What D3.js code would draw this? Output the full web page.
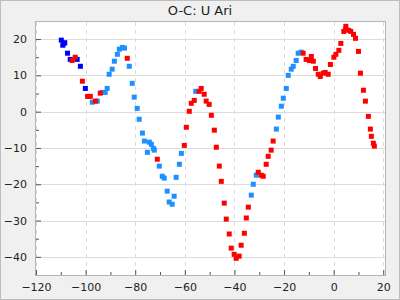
<!DOCTYPE html>
<html>
<head>
<meta charset="utf-8">
<script src="https://cdn.jsdelivr.net/npm/d3@7"></script>
<style>
    html, body { margin: 0; padding: 0; background: #f0f0f0; }
    svg { display: block; font-family: "DejaVu Sans", sans-serif; }
</style>
</head>
<body>
<div id="chart"></div>
<script>
// O-C values: [epoch x, O-C]
const darkBluePoints = [
    [-109.8, 19.7], [-108.4, 19.0], [-109.2, 18.3], [-108.8, 18.8],
    [-107.3, 16.1], [-106.2, 14.4], [-103.4, 14.4], [-102.1, 12.5],
    [-100.1, 6.4]
];

const skyBluePoints = [
    [-97.3, 2.6], [-95.3, 2.9], [-93.3, 5.3], [-92.1, 5.3], [-91.3, 6.4],
    [-90.5, 10.3], [-89.3, 11.7], [-88.4, 13.9], [-87.2, 15.8], [-86.4, 17.2],
    [-85.2, 17.7], [-84.3, 17.5], [-82.4, 12.5], [-81.2, 7.8], [-80.4, 4.0],
    [-79.2, 0.9], [-78.4, -2.1], [-77.1, -5.9], [-76.3, -8.1], [-74.3, -8.4],
    [-73.5, -9.0], [-72.7, -10.1], [-75.1, -11.2], [-72.3, -10.6], [-70.3, -15.0],
    [-69.1, -17.8], [-68.3, -18.3], [-67.1, -21.9], [-64.3, -23.3], [-66.3, -24.9],
    [-65.1, -25.5], [-63.5, -18.1], [-62.2, -14.5], [-61.4, -11.5], [-55.6, 5.6],
    [-33.2, -23.0], [-32.4, -20.0], [-31.2, -17.5], [-23.1, -4.8], [-22.3, -1.5],
    [-21.1, 1.5], [-20.3, 3.7], [-19.1, 6.4], [-18.3, 10.0], [-17.1, 11.7],
    [-16.3, 12.5], [-15.1, 14.1], [-14.3, 16.1], [-13.1, 16.4]
];

const redPoints = [
    [-105.4, 14.1], [-104.2, 15.0], [-101.3, 8.4], [-99.2, 4.2], [-98.1, 4.2],
    [-96.1, 2.9], [-94.1, 5.1], [-83.2, 14.7], [-71.1, -13.1], [-60.2, -9.3],
    [-59.4, -4.3], [-58.2, 0.1], [-57.4, 2.3], [-56.2, 3.1], [-54.2, 5.6],
    [-53.4, 6.4], [-52.2, 4.8], [-51.4, 2.9], [-50.2, 2.0], [-49.3, -1.0],
    [-48.1, -5.1], [-47.3, -9.8], [-46.1, -15.0], [-45.3, -19.2], [-44.1, -25.2],
    [-43.3, -29.6], [-42.1, -33.7], [-41.3, -37.6], [-40.1, -39.3], [-39.3, -40.4],
    [-38.1, -39.8], [-37.3, -36.8], [-36.0, -33.5], [-35.2, -29.3], [-34.4, -26.3],
    [-30.4, -16.7], [-29.2, -17.5], [-28.4, -17.8], [-27.2, -14.5], [-26.4, -12.3],
    [-25.2, -10.6], [-24.4, -8.1], [-12.3, 16.1], [-11.1, 14.4], [-9.8, 14.1],
    [-9.0, 15.2], [-8.2, 13.9], [-7.3, 11.9], [-6.2, 10.3], [-5.4, 9.7],
    [-4.2, 10.6], [-3.4, 10.8], [-2.2, 10.3], [-1.3, 13.0], [0.1, 15.0],
    [0.9, 15.8], [2.1, 16.9], [2.9, 18.8], [4.1, 22.1], [4.9, 23.5],
    [4.9, 22.7], [6.1, 22.4], [6.9, 22.1], [8.0, 21.3], [8.8, 20.2],
    [10.0, 16.6], [10.8, 10.6], [12.0, 5.9], [12.8, 2.9], [14.0, -1.3],
    [14.8, -4.8], [15.2, -6.8], [16.0, -8.7], [16.4, -9.5]
];

const xTicks = [-120, -100, -80, -60, -40, -20, 0, 20];
const xMinorTicks = [-110, -90, -70, -50, -30, -10, 10];
const yTicks = [-40, -30, -20, -10, 0, 10, 20];
const yMinorTicks = [-45, -35, -25, -15, -5, 5, 15];

const width = 400;
const height = 300;
const margin = {top: 22, right: 15, bottom: 25, left: 36};
const plotW = width - margin.left - margin.right;
const plotH = height - margin.top - margin.bottom;

const svg = d3.select("#chart").append("svg")
    .attr("width", width)
    .attr("height", height);

// outer frame
svg.append("rect")
    .attr("x", 0.5).attr("y", 0.5)
    .attr("width", width - 1).attr("height", height - 1)
    .attr("fill", "#f0f0f0")
    .attr("stroke", "#bdbdbd");

svg.append("text")
    .attr("x", width / 2)
    .attr("y", 15)
    .attr("text-anchor", "middle")
    .style("font-size", "13px")
    .attr("fill", "#222")
    .text("O-C: U Ari");

const x = d3.scaleLinear().domain([-120, 20.7]).range([0, plotW]);
const y = d3.scaleLinear().domain([-45, 24.7]).range([plotH, 0]);

const g = svg.append("g")
    .attr("transform", "translate(" + margin.left + "," + margin.top + ")");

g.append("rect")
    .attr("width", plotW).attr("height", plotH)
    .attr("fill", "#fff");

// grid
g.append("g").selectAll("line")
    .data(yTicks)
    .join("line")
    .attr("x1", 0).attr("x2", plotW)
    .attr("y1", d => Math.round(y(d)) + 0.5).attr("y2", d => Math.round(y(d)) + 0.5)
    .attr("stroke", "#dcdcdc");

g.append("g").selectAll("line")
    .data(xTicks)
    .join("line")
    .attr("x1", d => Math.round(x(d)) + 0.5).attr("x2", d => Math.round(x(d)) + 0.5)
    .attr("y1", 0).attr("y2", plotH)
    .attr("stroke", "#dcdcdc")
    .attr("stroke-dasharray", "4,4");

// axes, ticks pointing inward
g.append("g")
    .attr("transform", "translate(0," + plotH + ")")
    .call(d3.axisBottom(x).tickValues(xTicks).tickSizeInner(-5).tickSizeOuter(0).tickPadding(8));
g.append("g")
    .call(d3.axisLeft(y).tickValues(yTicks).tickSizeInner(-5).tickSizeOuter(0).tickPadding(9));

g.append("g")
    .attr("transform", "translate(0," + plotH + ")")
    .call(d3.axisBottom(x).tickValues(xMinorTicks).tickSizeInner(-3).tickSizeOuter(0).tickFormat(""));
g.append("g")
    .call(d3.axisLeft(y).tickValues(yMinorTicks).tickSizeInner(-3).tickSizeOuter(0).tickFormat(""));

g.selectAll(".domain").remove();
g.selectAll(".tick line").attr("stroke", "#555");
g.selectAll(".tick text")
    .attr("fill", "#222")
    .style("font-size", "11px")
    .style("font-family", "DejaVu Sans, sans-serif");

// series
const size = 5;
const series = [
    {points: darkBluePoints, color: "#0000ff"},
    {points: skyBluePoints, color: "#1e90ff"},
    {points: redPoints, color: "#ff0000"}
];

series.forEach(s => {
    g.append("g").selectAll("rect")
        .data(s.points)
        .join("rect")
        .attr("x", d => x(d[0]) - size / 2)
        .attr("y", d => y(d[1]) - size / 2)
        .attr("width", size)
        .attr("height", size)
        .attr("fill", s.color);
});

// plot border
g.append("rect")
    .attr("x", -0.5).attr("y", -0.5)
    .attr("width", plotW + 1).attr("height", plotH + 1)
    .attr("fill", "none")
    .attr("stroke", "#b4b4b4");
</script>
</body>
</html>
